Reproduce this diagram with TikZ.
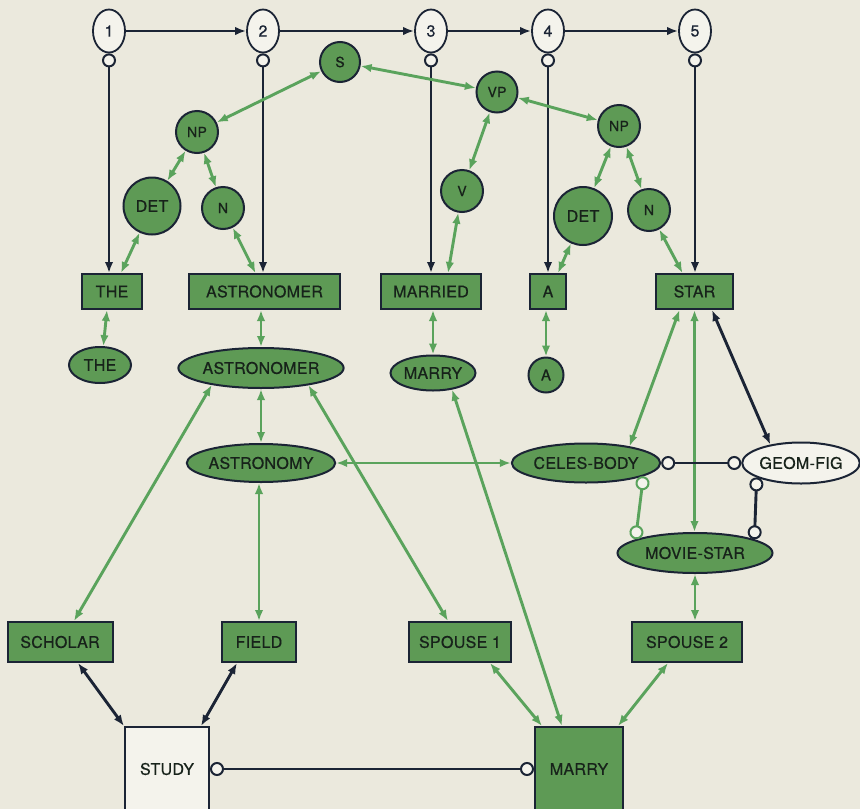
\documentclass[tikz,border=0pt]{standalone}
\usepackage{fontspec}
\setmainfont{TeX Gyre Heros}[LetterSpace=2, FakeBold=0.6]
\usetikzlibrary{arrows.meta,shapes.geometric}
\definecolor{bg}{HTML}{EBE9DD}
\definecolor{pf}{HTML}{F4F3EC}
\definecolor{gfill}{HTML}{5E9A55}
\definecolor{garrow}{HTML}{5AA35C}
\definecolor{dk}{HTML}{1B2435}
\definecolor{txt}{HTML}{17221A}
\tikzset{
  Tp/.tip={Latex[length=11pt,width=8.5pt]},
  Prt/.tip={Circle[length=14pt,width=14pt,fill=pf,line width=2pt]},
  big/.style={font=\fontsize{16}{18}\selectfont},
  small/.style={font=\fontsize{14}{16}\selectfont},
  gbox/.style={rectangle, draw=dk, line width=2pt, fill=gfill, text=txt, big, minimum height=35pt, inner sep=0pt},
  gell/.style={ellipse, draw=dk, line width=2pt, fill=gfill, text=txt, big, inner sep=0pt},
  gcirc/.style={circle, draw=dk, line width=2pt, fill=gfill, text=txt, small, inner sep=0pt},
  numell/.style={ellipse, draw=dk, line width=1.8pt, fill=pf, text=dk, font=\fontsize{16}{18}\selectfont, minimum width=32pt, minimum height=43pt, inner sep=0pt},
  garr/.style={draw=garrow, line width=2.9pt, {Tp}-{Tp}},
  darr/.style={draw=dk, line width=2.9pt, {Tp}-{Tp}},
  dline/.style={draw=dk, line width=2.9pt},
  gline/.style={draw=garrow, line width=2.9pt},
}
\begin{document}
\begin{tikzpicture}[x=1pt,y=-1pt]
\fill[bg] (0,0) rectangle (860,809);
\useasboundingbox (0,0) rectangle (860,809);
\clip (0,0) rectangle (860,809);

% top chain
\node[numell] (e1) at (109,31) {1};
\node[numell] (e2) at (263,31) {2};
\node[numell] (e3) at (431,31) {3};
\node[numell] (e4) at (548,31) {4};
\node[numell] (e5) at (695,31) {5};

% parse tree
\node[gcirc, minimum size=40pt] (s) at (340,62) {S};
\node[gcirc, minimum size=42pt] (npL) at (197,132) {NP};
\node[gcirc, minimum size=57pt, font=\fontsize{16}{18}\selectfont] (detL) at (152,206) {DET};
\node[gcirc, minimum size=42pt] (nL) at (223,208) {N};
\node[gcirc, minimum size=41pt] (vp) at (497,92) {VP};
\node[gcirc, minimum size=42pt] (v) at (462,191) {V};
\node[gcirc, minimum size=42pt] (npR) at (619,126) {NP};
\node[gcirc, minimum size=58pt, font=\fontsize{16}{18}\selectfont] (detR) at (583,216) {DET};
\node[gcirc, minimum size=42pt] (nR) at (649,210) {N};

% word boxes
\node[gbox, minimum width=60pt] (theB) at (112,291.5) {THE};
\node[gbox, minimum width=151pt] (astB) at (264.5,291.5) {ASTRONOMER};
\node[gbox, minimum width=100pt] (marriedB) at (431,291.5) {MARRIED};
\node[gbox, minimum width=36pt] (aB) at (548,291.5) {A};
\node[gbox, minimum width=77pt] (starB) at (694.5,291.5) {STAR};

% lexical ellipses
\node[gell, minimum width=62pt, minimum height=36pt] (theE) at (100,365) {THE};
\node[gell, minimum width=155pt, minimum height=40pt] (astE) at (261,368) {ASTRONOMER};
\node[gell, minimum width=85pt, minimum height=35pt] (marryE) at (433,373) {MARRY};
\node[gcirc, minimum size=35pt, font=\fontsize{15}{17}\selectfont] (aC) at (546,375) {A};
\node[gell, minimum width=144pt, minimum height=38pt] (astyE) at (261,463) {ASTRONOMY};
\node[gell, minimum width=142pt, minimum height=39pt] (celesE) at (586,463) {CELES-BODY};
\node[ellipse, draw=dk, line width=2pt, fill=pf, text=txt, big, inner sep=0pt, minimum width=113pt, minimum height=41pt] (geomE) at (801,463) {GEOM-FIG};
\node[gell, minimum width=155pt, minimum height=40pt] (movieE) at (695,553) {MOVIE-STAR};

% bottom boxes
\node[gbox, minimum width=105pt, minimum height=40pt] (scholarB) at (60,642) {SCHOLAR};
\node[gbox, minimum width=74pt, minimum height=40pt] (fieldB) at (259,642) {FIELD};
\node[gbox, minimum width=102pt, minimum height=40pt] (sp1B) at (460,642) {SPOUSE 1};
\node[gbox, minimum width=110pt, minimum height=40pt] (sp2B) at (687,642) {SPOUSE 2};
\node[rectangle, draw=dk, line width=2pt, fill=pf, text=txt, big, inner sep=0pt, minimum width=84pt, minimum height=84pt] (studyB) at (167,769) {STUDY};
\node[gbox, minimum width=88pt, minimum height=84pt] (marryB) at (579,769) {MARRY};

% top horizontal arrows
\draw[dline, -{Tp}] (e1) -- (e2);
\draw[dline, -{Tp}] (e2) -- (e3);
\draw[dline, -{Tp}] (e3) -- (e4);
\draw[dline, -{Tp}] (e4) -- (e5);

% vertical chain arrows
\draw[dline, {Prt}-{Tp}] (e1.south) -- (e1.south |- theB.north);
\draw[dline, {Prt}-{Tp}] (e2.south) -- (e2.south |- astB.north);
\draw[dline, {Prt}-{Tp}] (e3.south) -- (e3.south |- marriedB.north);
\draw[dline, {Prt}-{Tp}] (e4.south) -- (e4.south |- aB.north);
\draw[dline, {Prt}-{Tp}] (e5.south) -- (e5.south |- starB.north);

% parse tree links
\draw[garr] (s) -- (npL);
\draw[garr] (s) -- (vp);
\draw[garr] (vp) -- (npR);
\draw[garr] (vp) -- (v);
\draw[garr] (npL) -- (detL);
\draw[garr] (npL) -- (nL);
\draw[garr] (npR) -- (detR);
\draw[garr] (npR) -- (nR);
\draw[garr] (detL) -- ([xshift=9pt]theB.north);
\draw[garr] (nL) -- ([xshift=-9pt]astB.north);
\draw[garr] (v) -- ([xshift=17pt]marriedB.north);
\draw[garr] (detR) -- ([xshift=10pt]aB.north);
\draw[garr] (nR) -- ([xshift=-12pt]starB.north);

% word to lexical
\draw[garr] ([xshift=-5pt]theB.south) -- (theE.80);
\draw[garr] (astB.south -| astE.north) -- (astE.north);
\draw[garr] (marriedB.south -| marryE.north) -- (marryE.north);
\draw[garr] (aB.south -| aC.north) -- (aC.north);

% semantic links
\draw[garr] (astE.south) -- (astyE.north);
\draw[garr] (fieldB.north |- astyE.south) -- (fieldB.north);
\draw[garr] (astE.199) -- ([xshift=14pt]scholarB.north);
\draw[garr] (astE.-20) -- ([xshift=-12pt]sp1B.north);
\draw[garr] (marryE.-41) -- ([xshift=-17pt]marryB.north);
\draw[garr] (astyE.east) -- (celesE.west);
\draw[garr] ([xshift=-15pt]starB.south) -- (celesE.21);
\draw[garr] (starB.south) -- (starB.south |- movieE.north);
\draw[darr] ([xshift=17.5pt]starB.south) -- (geomE.149);
\draw[garr] (movieE.south) -- (movieE.south |- sp2B.north);

% circle-ended links
\draw[dline, {Prt}-{Prt}] (celesE.east) -- (geomE.west);
\draw[gline, {Prt}-{Prt}] (celesE.-13) -- (movieE.167);
\draw[dline, {Prt}-{Prt}] (geomE.198) -- (movieE.13);
\draw[dline, {Prt}-{Prt}] (studyB.east) -- (marryB.west);

% bottom links
\draw[darr] ([xshift=18pt]scholarB.south) -- (studyB.north west);
\draw[darr] ([xshift=-22pt]fieldB.south) -- ([xshift=-9pt]studyB.north east);
\draw[garr] ([xshift=30pt]sp1B.south) -- ([xshift=8pt]marryB.north west);
\draw[garr] ([xshift=-19pt]sp2B.south) -- ([xshift=-6pt]marryB.north east);
\end{tikzpicture}
\end{document}
